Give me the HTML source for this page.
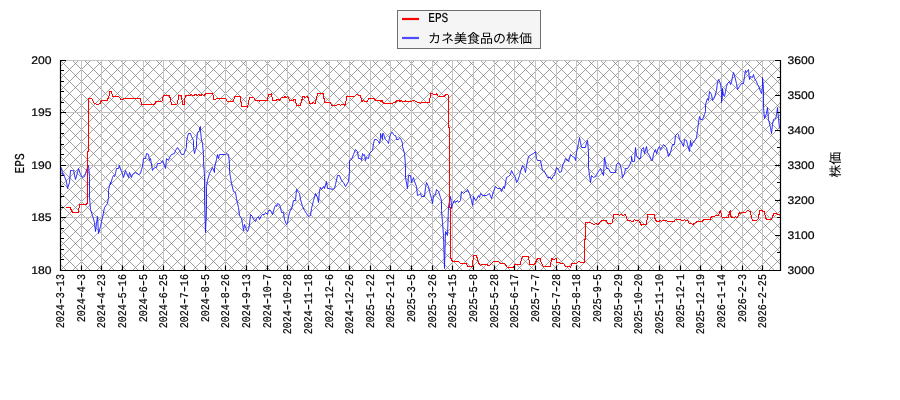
<!DOCTYPE html>
<html lang="ja"><head><meta charset="utf-8"><title>EPS chart</title>
<style>
html,body{margin:0;padding:0;background:#fff;}
body{width:900px;height:400px;overflow:hidden;}
svg{display:block;will-change:transform;}
text{text-rendering:geometricPrecision;}
.m{font-family:"Liberation Mono",monospace;font-size:11.8px;fill:#000;stroke:#000;stroke-width:0.2px;}
.lg{font-family:"Liberation Mono",monospace;font-size:13.6px;fill:#000;stroke:#000;stroke-width:0.2px;}
.n{font-family:"Liberation Sans",sans-serif;font-size:11.05px;fill:#000;stroke:#000;stroke-width:0.2px;}
.jp{font-family:"Liberation Sans","Noto Sans CJK JP",sans-serif;font-size:13px;fill:#000;}
</style></head><body>
<svg width="900" height="400" viewBox="0 0 900 400">
<rect x="0" y="0" width="900" height="400" fill="#fff"/>
<defs><clipPath id="pc"><rect x="61" y="61" width="719.5" height="209.5"/></clipPath></defs>
<g clip-path="url(#pc)" fill="none" stroke="#000" opacity="0.53" stroke-width="0.7"><path d="M-168.5 59.5L43.5 271.5M-156.5 59.5L55.5 271.5M-144.5 59.5L67.5 271.5M-132.5 59.5L79.5 271.5M-120.5 59.5L91.5 271.5M-108.5 59.5L103.5 271.5M-96.5 59.5L115.5 271.5M-84.5 59.5L127.5 271.5M-72.5 59.5L139.5 271.5M-60.5 59.5L151.5 271.5M-48.5 59.5L163.5 271.5M-36.5 59.5L175.5 271.5M-24.5 59.5L187.5 271.5M-12.5 59.5L199.5 271.5M-0.5 59.5L211.5 271.5M11.5 59.5L223.5 271.5M23.5 59.5L235.5 271.5M35.5 59.5L247.5 271.5M47.5 59.5L259.5 271.5M59.5 59.5L271.5 271.5M71.5 59.5L283.5 271.5M83.5 59.5L295.5 271.5M95.5 59.5L307.5 271.5M107.5 59.5L319.5 271.5M119.5 59.5L331.5 271.5M131.5 59.5L343.5 271.5M143.5 59.5L355.5 271.5M155.5 59.5L367.5 271.5M167.5 59.5L379.5 271.5M179.5 59.5L391.5 271.5M191.5 59.5L403.5 271.5M203.5 59.5L415.5 271.5M215.5 59.5L427.5 271.5M227.5 59.5L439.5 271.5M239.5 59.5L451.5 271.5M251.5 59.5L463.5 271.5M263.5 59.5L475.5 271.5M275.5 59.5L487.5 271.5M287.5 59.5L499.5 271.5M299.5 59.5L511.5 271.5M311.5 59.5L523.5 271.5M323.5 59.5L535.5 271.5M335.5 59.5L547.5 271.5M347.5 59.5L559.5 271.5M359.5 59.5L571.5 271.5M371.5 59.5L583.5 271.5M383.5 59.5L595.5 271.5M395.5 59.5L607.5 271.5M407.5 59.5L619.5 271.5M419.5 59.5L631.5 271.5M431.5 59.5L643.5 271.5M443.5 59.5L655.5 271.5M455.5 59.5L667.5 271.5M467.5 59.5L679.5 271.5M479.5 59.5L691.5 271.5M491.5 59.5L703.5 271.5M503.5 59.5L715.5 271.5M515.5 59.5L727.5 271.5M527.5 59.5L739.5 271.5M539.5 59.5L751.5 271.5M551.5 59.5L763.5 271.5M563.5 59.5L775.5 271.5M575.5 59.5L787.5 271.5M587.5 59.5L799.5 271.5M599.5 59.5L811.5 271.5M611.5 59.5L823.5 271.5M623.5 59.5L835.5 271.5M635.5 59.5L847.5 271.5M647.5 59.5L859.5 271.5M659.5 59.5L871.5 271.5M671.5 59.5L883.5 271.5M683.5 59.5L895.5 271.5M695.5 59.5L907.5 271.5M707.5 59.5L919.5 271.5M719.5 59.5L931.5 271.5M731.5 59.5L943.5 271.5M743.5 59.5L955.5 271.5M755.5 59.5L967.5 271.5M767.5 59.5L979.5 271.5M779.5 59.5L991.5 271.5"/><path d="M43.5 59.5L-168.5 271.5M55.5 59.5L-156.5 271.5M67.5 59.5L-144.5 271.5M79.5 59.5L-132.5 271.5M91.5 59.5L-120.5 271.5M103.5 59.5L-108.5 271.5M115.5 59.5L-96.5 271.5M127.5 59.5L-84.5 271.5M139.5 59.5L-72.5 271.5M151.5 59.5L-60.5 271.5M163.5 59.5L-48.5 271.5M175.5 59.5L-36.5 271.5M187.5 59.5L-24.5 271.5M199.5 59.5L-12.5 271.5M211.5 59.5L-0.5 271.5M223.5 59.5L11.5 271.5M235.5 59.5L23.5 271.5M247.5 59.5L35.5 271.5M259.5 59.5L47.5 271.5M271.5 59.5L59.5 271.5M283.5 59.5L71.5 271.5M295.5 59.5L83.5 271.5M307.5 59.5L95.5 271.5M319.5 59.5L107.5 271.5M331.5 59.5L119.5 271.5M343.5 59.5L131.5 271.5M355.5 59.5L143.5 271.5M367.5 59.5L155.5 271.5M379.5 59.5L167.5 271.5M391.5 59.5L179.5 271.5M403.5 59.5L191.5 271.5M415.5 59.5L203.5 271.5M427.5 59.5L215.5 271.5M439.5 59.5L227.5 271.5M451.5 59.5L239.5 271.5M463.5 59.5L251.5 271.5M475.5 59.5L263.5 271.5M487.5 59.5L275.5 271.5M499.5 59.5L287.5 271.5M511.5 59.5L299.5 271.5M523.5 59.5L311.5 271.5M535.5 59.5L323.5 271.5M547.5 59.5L335.5 271.5M559.5 59.5L347.5 271.5M571.5 59.5L359.5 271.5M583.5 59.5L371.5 271.5M595.5 59.5L383.5 271.5M607.5 59.5L395.5 271.5M619.5 59.5L407.5 271.5M631.5 59.5L419.5 271.5M643.5 59.5L431.5 271.5M655.5 59.5L443.5 271.5M667.5 59.5L455.5 271.5M679.5 59.5L467.5 271.5M691.5 59.5L479.5 271.5M703.5 59.5L491.5 271.5M715.5 59.5L503.5 271.5M727.5 59.5L515.5 271.5M739.5 59.5L527.5 271.5M751.5 59.5L539.5 271.5M763.5 59.5L551.5 271.5M775.5 59.5L563.5 271.5M787.5 59.5L575.5 271.5M799.5 59.5L587.5 271.5M811.5 59.5L599.5 271.5M823.5 59.5L611.5 271.5M835.5 59.5L623.5 271.5M847.5 59.5L635.5 271.5M859.5 59.5L647.5 271.5M871.5 59.5L659.5 271.5M883.5 59.5L671.5 271.5M895.5 59.5L683.5 271.5M907.5 59.5L695.5 271.5M919.5 59.5L707.5 271.5M931.5 59.5L719.5 271.5M943.5 59.5L731.5 271.5M955.5 59.5L743.5 271.5M967.5 59.5L755.5 271.5M979.5 59.5L767.5 271.5M991.5 59.5L779.5 271.5"/></g>
<path d="M81.5 60.5V270.5M101.5 60.5V270.5M122.5 60.5V270.5M143.5 60.5V270.5M163.5 60.5V270.5M184.5 60.5V270.5M205.5 60.5V270.5M225.5 60.5V270.5M246.5 60.5V270.5M267.5 60.5V270.5M287.5 60.5V270.5M308.5 60.5V270.5M329.5 60.5V270.5M349.5 60.5V270.5M370.5 60.5V270.5M390.5 60.5V270.5M411.5 60.5V270.5M432.5 60.5V270.5M452.5 60.5V270.5M473.5 60.5V270.5M494.5 60.5V270.5M514.5 60.5V270.5M535.5 60.5V270.5M556.5 60.5V270.5M576.5 60.5V270.5M597.5 60.5V270.5M618.5 60.5V270.5M638.5 60.5V270.5M659.5 60.5V270.5M680.5 60.5V270.5M700.5 60.5V270.5M721.5 60.5V270.5M742.5 60.5V270.5M762.5 60.5V270.5M60.5 217.5H780.5M60.5 165.5H780.5M60.5 112.5H780.5M60.5 60.5H780.5" fill="none" stroke="#c3c3c3" stroke-width="1"/>
<polyline points="61.5,167.5 62.5,174.5 63.5,173.5 64.5,176.5 66.5,181.5 67.5,188.5 69.5,182.5 70.5,170.5 72.5,170.5 73.5,170.5 75.5,179.5 77.5,172.5 78.5,168.5 80.5,174.5 82.5,177.5 84.5,176.5 85.5,173.5 87.5,167.5 88.5,165.5 89.5,176.5 89.5,197.5 90.5,209.5 92.5,215.5 94.5,222.5 95.5,231.5 96.5,223.5 97.5,216.5 98.5,233.5 100.5,226.5 101.5,221.5 102.5,217.5 104.5,207.5 107.5,203.5 108.5,197.5 108.5,190.5 109.5,185.5 110.5,182.5 110.5,184.5 112.5,177.5 113.5,175.5 114.5,176.5 115.5,173.5 116.5,168.5 118.5,168.5 119.5,165.5 120.5,169.5 122.5,173.5 123.5,177.5 125.5,170.5 126.5,172.5 128.5,177.5 129.5,172.5 131.5,177.5 132.5,174.5 135.5,172.5 138.5,174.5 140.5,173.5 141.5,169.5 142.5,166.5 143.5,158.5 145.5,158.5 146.5,153.5 148.5,154.5 149.5,160.5 150.5,158.5 152.5,170.5 153.5,168.5 155.5,167.5 156.5,167.5 157.5,163.5 160.5,163.5 162.5,160.5 164.5,165.5 165.5,168.5 166.5,158.5 168.5,160.5 169.5,157.5 171.5,154.5 174.5,153.5 175.5,150.5 177.5,147.5 179.5,150.5 181.5,154.5 183.5,154.5 184.5,152.5 186.5,147.5 186.5,142.5 187.5,136.5 188.5,133.5 190.5,133.5 191.5,136.5 193.5,140.5 193.5,147.5 194.5,153.5 195.5,149.5 196.5,147.5 196.5,140.5 197.5,132.5 199.5,130.5 199.5,127.5 200.5,126.5 200.5,130.5 201.5,140.5 202.5,143.5 203.5,154.5 203.5,161.5 204.5,176.5 204.5,200.5 205.5,232.5 206.5,210.5 206.5,186.5 207.5,180.5 209.5,173.5 210.5,171.5 212.5,167.5 214.5,172.5 214.5,167.5 216.5,159.5 217.5,154.5 218.5,158.5 219.5,154.5 225.5,154.5 226.5,153.5 228.5,154.5 229.5,163.5 229.5,171.5 230.5,177.5 231.5,183.5 233.5,191.5 235.5,192.5 236.5,198.5 237.5,203.5 238.5,207.5 239.5,215.5 241.5,218.5 242.5,223.5 243.5,230.5 244.5,224.5 246.5,229.5 247.5,231.5 248.5,229.5 249.5,224.5 250.5,214.5 252.5,216.5 253.5,219.5 255.5,221.5 256.5,218.5 258.5,216.5 259.5,219.5 261.5,215.5 262.5,214.5 264.5,214.5 265.5,212.5 267.5,214.5 268.5,210.5 270.5,210.5 271.5,212.5 272.5,214.5 274.5,207.5 275.5,205.5 276.5,206.5 277.5,203.5 279.5,204.5 280.5,207.5 281.5,212.5 283.5,212.5 284.5,219.5 286.5,224.5 287.5,223.5 288.5,216.5 290.5,209.5 291.5,209.5 293.5,200.5 295.5,200.5 296.5,189.5 298.5,192.5 299.5,193.5 300.5,199.5 302.5,206.5 304.5,210.5 306.5,213.5 308.5,216.5 310.5,215.5 311.5,208.5 313.5,200.5 315.5,193.5 317.5,197.5 318.5,202.5 319.5,190.5 320.5,187.5 321.5,189.5 323.5,186.5 324.5,188.5 326.5,181.5 327.5,188.5 329.5,188.5 332.5,189.5 334.5,188.5 335.5,184.5 337.5,175.5 339.5,175.5 341.5,180.5 343.5,182.5 345.5,186.5 348.5,181.5 349.5,171.5 349.5,160.5 351.5,159.5 353.5,154.5 355.5,149.5 357.5,151.5 358.5,158.5 360.5,158.5 361.5,160.5 362.5,153.5 363.5,155.5 364.5,154.5 365.5,160.5 366.5,157.5 368.5,158.5 369.5,153.5 372.5,150.5 373.5,143.5 374.5,139.5 376.5,139.5 378.5,141.5 379.5,143.5 380.5,138.5 380.5,133.5 381.5,136.5 382.5,139.5 382.5,133.5 383.5,133.5 384.5,137.5 385.5,139.5 387.5,141.5 388.5,143.5 389.5,137.5 390.5,134.5 391.5,132.5 392.5,132.5 393.5,134.5 394.5,135.5 395.5,135.5 396.5,138.5 396.5,139.5 398.5,139.5 399.5,137.5 400.5,138.5 401.5,140.5 402.5,143.5 402.5,146.5 404.5,153.5 405.5,165.5 405.5,177.5 407.5,188.5 408.5,175.5 410.5,175.5 411.5,182.5 413.5,177.5 414.5,181.5 416.5,186.5 417.5,195.5 419.5,194.5 420.5,193.5 421.5,196.5 424.5,196.5 425.5,187.5 426.5,182.5 428.5,186.5 429.5,191.5 431.5,198.5 432.5,203.5 433.5,195.5 435.5,194.5 436.5,189.5 438.5,191.5 440.5,197.5 441.5,200.5 441.5,210.5 442.5,222.5 443.5,235.5 444.5,268.5 445.5,231.5 447.5,235.5 448.5,206.5 450.5,196.5 451.5,204.5 451.5,208.5 452.5,204.5 454.5,200.5 455.5,202.5 457.5,200.5 458.5,202.5 460.5,200.5 461.5,191.5 463.5,193.5 465.5,191.5 466.5,191.5 467.5,189.5 469.5,193.5 471.5,200.5 472.5,205.5 473.5,196.5 475.5,200.5 476.5,199.5 478.5,195.5 479.5,197.5 480.5,193.5 482.5,195.5 486.5,195.5 489.5,193.5 491.5,198.5 493.5,191.5 495.5,186.5 497.5,188.5 500.5,188.5 501.5,191.5 503.5,186.5 504.5,188.5 506.5,177.5 508.5,176.5 510.5,174.5 511.5,170.5 513.5,174.5 515.5,177.5 516.5,182.5 517.5,181.5 519.5,175.5 520.5,171.5 522.5,165.5 524.5,168.5 525.5,172.5 526.5,165.5 528.5,156.5 531.5,154.5 533.5,153.5 535.5,151.5 536.5,158.5 537.5,160.5 540.5,160.5 542.5,170.5 544.5,171.5 546.5,175.5 547.5,177.5 550.5,177.5 551.5,179.5 553.5,175.5 554.5,175.5 556.5,167.5 558.5,169.5 559.5,172.5 561.5,171.5 562.5,165.5 564.5,161.5 565.5,158.5 568.5,161.5 570.5,154.5 572.5,156.5 574.5,157.5 575.5,160.5 576.5,152.5 578.5,143.5 579.5,137.5 580.5,142.5 581.5,147.5 585.5,147.5 586.5,142.5 587.5,140.5 588.5,151.5 588.5,167.5 589.5,175.5 590.5,182.5 591.5,175.5 593.5,177.5 595.5,176.5 596.5,174.5 598.5,171.5 600.5,168.5 601.5,171.5 603.5,175.5 604.5,157.5 605.5,162.5 606.5,168.5 608.5,168.5 610.5,172.5 613.5,172.5 615.5,172.5 616.5,164.5 618.5,162.5 620.5,165.5 621.5,170.5 622.5,177.5 624.5,173.5 625.5,168.5 627.5,168.5 629.5,165.5 631.5,160.5 631.5,156.5 632.5,161.5 634.5,161.5 635.5,147.5 636.5,155.5 638.5,158.5 640.5,158.5 641.5,149.5 643.5,147.5 644.5,153.5 646.5,146.5 647.5,152.5 649.5,155.5 651.5,160.5 652.5,160.5 653.5,153.5 655.5,149.5 656.5,153.5 658.5,147.5 659.5,146.5 660.5,149.5 662.5,146.5 663.5,144.5 665.5,146.5 666.5,147.5 668.5,156.5 670.5,152.5 672.5,144.5 674.5,144.5 675.5,135.5 677.5,133.5 678.5,134.5 679.5,139.5 681.5,142.5 683.5,146.5 684.5,139.5 686.5,140.5 687.5,144.5 689.5,151.5 690.5,140.5 691.5,146.5 692.5,143.5 695.5,139.5 696.5,137.5 697.5,130.5 698.5,122.5 699.5,116.5 700.5,119.5 702.5,119.5 704.5,114.5 705.5,111.5 705.5,104.5 707.5,98.5 708.5,100.5 709.5,91.5 711.5,94.5 712.5,100.5 714.5,97.5 716.5,90.5 717.5,82.5 718.5,79.5 720.5,83.5 721.5,91.5 721.5,102.5 722.5,95.5 722.5,88.5 723.5,95.5 724.5,96.5 725.5,91.5 726.5,86.5 727.5,83.5 729.5,81.5 730.5,84.5 731.5,82.5 732.5,76.5 733.5,72.5 734.5,75.5 736.5,83.5 737.5,89.5 739.5,86.5 741.5,83.5 743.5,83.5 744.5,76.5 745.5,70.5 746.5,72.5 747.5,70.5 748.5,69.5 749.5,79.5 750.5,76.5 752.5,77.5 753.5,74.5 754.5,78.5 756.5,81.5 757.5,84.5 758.5,85.5 760.5,91.5 761.5,93.5 762.5,86.5 762.5,77.5 763.5,88.5 763.5,88.5 763.5,107.5 764.5,118.5 766.5,113.5 767.5,107.5 768.5,119.5 770.5,127.5 771.5,133.5 772.5,124.5 773.5,119.5 775.5,118.5 776.5,115.5 777.5,107.5 778.5,118.5 779.5,128.5" fill="none" stroke="#1616ff" stroke-width="0.9" stroke-linejoin="bevel" shape-rendering="crispEdges"/>
<polyline points="66.0,207.5 70.0,207.5 72.5,212.5 78.5,212.5 79.5,204.5 85.5,204.5 87.5,203.5 87.5,151.0 88.5,151.0 88.5,98.5 91.5,98.5 94.5,103.5 98.0,104.5 100.0,103.5 101.5,100.5 107.0,100.5 109.0,96.5 110.0,91.5 111.0,91.5 113.0,96.5 118.5,96.5 121.0,99.5 122.5,99.5 124.0,98.5 140.5,98.5 141.5,104.5 154.5,104.5 156.0,101.5 162.0,101.5 163.5,95.5 169.0,95.5 170.0,97.5 171.5,104.5 176.0,104.5 177.5,103.5 178.8,95.5 181.5,95.5 182.5,104.5 184.0,104.5 185.5,95.5 190.8,95.5 190.9,94.5 192.0,94.5 192.1,95.5 194.9,95.5 195.0,94.5 196.9,94.5 197.0,95.5 198.0,95.5 198.1,94.5 199.8,94.5 199.9,95.5 201.2,95.5 201.3,94.5 203.0,94.5 203.1,95.5 204.3,95.5 204.4,94.5 205.9,94.5 206.0,93.5 212.7,93.5 214.0,99.5 215.5,99.5 216.5,98.5 225.5,98.5 227.5,101.5 233.5,101.5 234.5,96.5 240.5,96.5 241.5,106.5 247.2,106.5 247.5,107.5 249.0,100.5 249.8,97.5 253.8,97.5 255.2,100.5 259.0,100.5 259.5,101.5 260.5,100.5 267.5,100.5 268.5,94.5 271.2,94.5 271.5,93.5 272.5,100.5 276.0,100.5 276.5,99.5 279.0,99.5 279.5,100.5 281.5,97.5 284.0,97.5 284.8,96.5 286.0,97.5 287.5,96.5 288.5,97.5 289.8,100.5 293.0,100.5 293.5,99.5 295.5,99.5 296.5,105.5 300.0,105.5 301.5,101.5 302.8,96.5 304.0,96.5 305.0,97.5 306.8,96.5 308.0,97.5 309.8,103.5 312.0,103.5 313.0,102.5 315.0,103.5 316.0,100.5 317.5,93.5 323.0,93.5 324.0,98.5 324.8,102.5 330.5,102.5 331.8,105.5 336.5,105.5 337.5,104.5 339.5,104.5 340.5,105.5 341.5,104.5 344.0,104.5 344.8,105.5 345.8,102.5 346.8,96.5 354.5,96.5 356.5,94.5 357.5,94.5 358.5,95.5 360.5,95.5 361.8,101.5 363.0,100.5 364.5,101.5 367.2,101.5 368.5,98.5 374.0,98.5 376.2,100.5 380.0,100.5 381.0,101.5 382.0,100.5 383.5,103.5 392.5,103.5 393.5,102.5 395.5,102.5 396.5,100.5 399.0,100.5 400.0,101.5 401.0,100.5 402.5,101.5 405.0,101.5 405.5,100.5 406.5,101.5 411.5,101.5 412.5,100.5 414.5,100.5 417.5,102.5 419.5,102.5 420.5,103.5 421.5,102.5 429.5,102.5 430.5,93.5 432.5,93.5 433.5,94.5 435.8,94.5 436.5,93.5 437.5,95.5 438.5,96.5 444.5,96.5 445.5,94.5 447.8,94.5 448.5,95.5 448.5,127.0 449.5,127.0 449.5,207.0 450.5,207.0 450.5,255.5 451.0,258.5 452.5,261.5 458.5,261.5 460.5,263.5 466.2,263.5 467.8,266.5 472.0,266.5 473.0,260.5 474.0,255.5 476.5,255.5 477.5,259.5 479.0,263.5 480.5,265.5 481.5,264.5 487.0,264.5 488.0,265.5 489.5,265.5 491.5,263.5 493.5,261.5 498.5,261.5 500.5,263.5 504.5,263.5 506.0,265.5 507.5,267.5 513.5,267.5 514.3,264.5 520.0,264.5 521.5,259.5 522.8,256.5 528.2,256.5 529.5,262.5 530.0,264.5 534.5,264.5 536.0,261.5 537.5,258.5 540.0,258.5 541.5,263.5 543.5,266.5 550.5,266.5 551.5,258.5 553.5,259.5 556.0,258.5 557.0,262.5 559.0,262.5 561.0,263.5 563.5,263.5 565.5,266.5 570.0,266.5 570.5,267.5 572.0,263.5 576.5,263.5 578.5,261.5 579.5,261.5 580.5,262.5 584.5,262.5 584.5,239.0 585.5,239.0 585.5,222.5 589.0,222.5 590.5,222.5 592.0,223.5 593.5,224.5 596.0,223.5 598.0,224.5 599.0,223.5 600.5,221.5 602.5,220.5 606.0,220.5 608.0,223.5 612.0,223.5 613.0,219.5 614.0,214.5 618.0,214.5 619.5,215.5 621.0,214.5 623.0,215.5 625.5,214.5 626.5,217.5 627.8,220.5 630.0,220.5 631.5,221.5 633.0,221.5 634.5,219.5 635.5,220.5 638.5,220.5 640.0,222.5 641.5,225.5 643.0,224.5 646.2,224.5 647.0,220.5 648.0,214.5 654.0,214.5 655.0,218.5 656.5,221.5 659.0,221.5 660.0,220.5 661.5,221.5 663.0,220.5 666.0,220.5 667.5,221.5 674.0,221.5 675.5,219.5 680.5,219.5 681.5,220.5 683.5,220.5 684.5,219.5 685.5,220.5 687.5,220.5 689.5,223.5 691.5,223.5 693.0,224.5 695.5,222.5 697.5,221.5 702.5,221.5 703.5,219.5 710.0,219.5 711.5,216.5 714.5,216.5 716.0,215.5 718.5,215.5 719.5,212.5 720.5,210.5 721.2,214.5 722.2,217.5 728.0,217.5 729.0,214.5 730.0,211.5 730.5,210.5 731.0,216.5 731.8,217.5 734.5,217.5 735.5,216.5 737.2,217.5 739.0,213.5 739.8,212.5 740.5,213.5 741.5,212.5 745.5,212.5 747.5,210.5 748.5,210.5 750.0,211.5 750.8,213.5 751.5,217.5 752.5,220.5 754.0,220.5 756.5,220.5 758.0,219.5 759.0,214.5 760.0,210.5 762.0,210.5 763.0,211.5 764.2,211.5 765.5,217.5 766.5,219.5 768.5,219.5 770.0,219.5 771.5,219.5 772.5,216.5 774.0,213.5 776.0,213.5 777.5,214.5 780.0,214.5" fill="none" stroke="#ff0000" stroke-width="1" stroke-linejoin="miter" stroke-miterlimit="2" shape-rendering="crispEdges"/>
<path d="M60.5 60.0V271.0M780.5 60.0V271.0M60.0 270.5H781.0M60.5 270.5h5.5M60.5 259.5h3.5M60.5 249.5h3.5M60.5 238.5h3.5M60.5 228.5h3.5M60.5 217.5h5.5M60.5 207.5h3.5M60.5 196.5h3.5M60.5 186.5h3.5M60.5 175.5h3.5M60.5 165.5h5.5M60.5 154.5h3.5M60.5 144.5h3.5M60.5 133.5h3.5M60.5 123.5h3.5M60.5 112.5h5.5M60.5 102.5h3.5M60.5 91.5h3.5M60.5 81.5h3.5M60.5 70.5h3.5M60.5 60.5h5.5M780.5 270.5h-5.5M780.5 252.5h-3.5M780.5 235.5h-5.5M780.5 217.5h-3.5M780.5 200.5h-5.5M780.5 182.5h-3.5M780.5 165.5h-5.5M780.5 147.5h-3.5M780.5 130.5h-5.5M780.5 112.5h-3.5M780.5 95.5h-5.5M780.5 77.5h-3.5M780.5 60.5h-5.5M60.5 270.5v-5M81.5 270.5v-5M101.5 270.5v-5M122.5 270.5v-5M143.5 270.5v-5M163.5 270.5v-5M184.5 270.5v-5M205.5 270.5v-5M225.5 270.5v-5M246.5 270.5v-5M267.5 270.5v-5M287.5 270.5v-5M308.5 270.5v-5M329.5 270.5v-5M349.5 270.5v-5M370.5 270.5v-5M390.5 270.5v-5M411.5 270.5v-5M432.5 270.5v-5M452.5 270.5v-5M473.5 270.5v-5M494.5 270.5v-5M514.5 270.5v-5M535.5 270.5v-5M556.5 270.5v-5M576.5 270.5v-5M597.5 270.5v-5M618.5 270.5v-5M638.5 270.5v-5M659.5 270.5v-5M680.5 270.5v-5M700.5 270.5v-5M721.5 270.5v-5M742.5 270.5v-5M762.5 270.5v-5" fill="none" stroke="#000" stroke-width="1.2"/>
<text class="n" transform="translate(51.6 273.8) scale(1.1 1)" text-anchor="end">180</text>
<text class="n" transform="translate(51.6 221.3) scale(1.1 1)" text-anchor="end">185</text>
<text class="n" transform="translate(51.6 168.8) scale(1.1 1)" text-anchor="end">190</text>
<text class="n" transform="translate(51.6 116.3) scale(1.1 1)" text-anchor="end">195</text>
<text class="n" transform="translate(51.6 63.8) scale(1.1 1)" text-anchor="end">200</text>
<text class="n" transform="translate(787.5 273.8) scale(1.1 1)">3000</text>
<text class="n" transform="translate(787.5 238.8) scale(1.1 1)">3100</text>
<text class="n" transform="translate(787.5 203.8) scale(1.1 1)">3200</text>
<text class="n" transform="translate(787.5 168.8) scale(1.1 1)">3300</text>
<text class="n" transform="translate(787.5 133.8) scale(1.1 1)">3400</text>
<text class="n" transform="translate(787.5 98.8) scale(1.1 1)">3500</text>
<text class="n" transform="translate(787.5 63.8) scale(1.1 1)">3600</text>
<text class="m" transform="translate(64.00 274.1) rotate(-89.95) scale(0.849 1)" text-anchor="end">2024<tspan dy="-0.2">-</tspan><tspan dy="0.2">3</tspan><tspan dy="-0.2">-</tspan><tspan dy="0.2">13</tspan></text>
<text class="m" transform="translate(85.00 274.1) rotate(-89.95) scale(0.849 1)" text-anchor="end">2024<tspan dy="-0.2">-</tspan><tspan dy="0.2">4</tspan><tspan dy="-0.2">-</tspan><tspan dy="0.2">3</tspan></text>
<text class="m" transform="translate(105.00 274.1) rotate(-89.95) scale(0.849 1)" text-anchor="end">2024<tspan dy="-0.2">-</tspan><tspan dy="0.2">4</tspan><tspan dy="-0.2">-</tspan><tspan dy="0.2">23</tspan></text>
<text class="m" transform="translate(126.00 274.1) rotate(-89.95) scale(0.849 1)" text-anchor="end">2024<tspan dy="-0.2">-</tspan><tspan dy="0.2">5</tspan><tspan dy="-0.2">-</tspan><tspan dy="0.2">16</tspan></text>
<text class="m" transform="translate(147.00 274.1) rotate(-89.95) scale(0.849 1)" text-anchor="end">2024<tspan dy="-0.2">-</tspan><tspan dy="0.2">6</tspan><tspan dy="-0.2">-</tspan><tspan dy="0.2">5</tspan></text>
<text class="m" transform="translate(167.00 274.1) rotate(-89.95) scale(0.849 1)" text-anchor="end">2024<tspan dy="-0.2">-</tspan><tspan dy="0.2">6</tspan><tspan dy="-0.2">-</tspan><tspan dy="0.2">25</tspan></text>
<text class="m" transform="translate(188.00 274.1) rotate(-89.95) scale(0.849 1)" text-anchor="end">2024<tspan dy="-0.2">-</tspan><tspan dy="0.2">7</tspan><tspan dy="-0.2">-</tspan><tspan dy="0.2">16</tspan></text>
<text class="m" transform="translate(209.00 274.1) rotate(-89.95) scale(0.849 1)" text-anchor="end">2024<tspan dy="-0.2">-</tspan><tspan dy="0.2">8</tspan><tspan dy="-0.2">-</tspan><tspan dy="0.2">5</tspan></text>
<text class="m" transform="translate(229.00 274.1) rotate(-89.95) scale(0.849 1)" text-anchor="end">2024<tspan dy="-0.2">-</tspan><tspan dy="0.2">8</tspan><tspan dy="-0.2">-</tspan><tspan dy="0.2">26</tspan></text>
<text class="m" transform="translate(250.00 274.1) rotate(-89.95) scale(0.849 1)" text-anchor="end">2024<tspan dy="-0.2">-</tspan><tspan dy="0.2">9</tspan><tspan dy="-0.2">-</tspan><tspan dy="0.2">13</tspan></text>
<text class="m" transform="translate(271.00 274.1) rotate(-89.95) scale(0.849 1)" text-anchor="end">2024<tspan dy="-0.2">-</tspan><tspan dy="0.2">10</tspan><tspan dy="-0.2">-</tspan><tspan dy="0.2">7</tspan></text>
<text class="m" transform="translate(291.00 274.1) rotate(-89.95) scale(0.849 1)" text-anchor="end">2024<tspan dy="-0.2">-</tspan><tspan dy="0.2">10</tspan><tspan dy="-0.2">-</tspan><tspan dy="0.2">28</tspan></text>
<text class="m" transform="translate(312.00 274.1) rotate(-89.95) scale(0.849 1)" text-anchor="end">2024<tspan dy="-0.2">-</tspan><tspan dy="0.2">11</tspan><tspan dy="-0.2">-</tspan><tspan dy="0.2">18</tspan></text>
<text class="m" transform="translate(333.00 274.1) rotate(-89.95) scale(0.849 1)" text-anchor="end">2024<tspan dy="-0.2">-</tspan><tspan dy="0.2">12</tspan><tspan dy="-0.2">-</tspan><tspan dy="0.2">6</tspan></text>
<text class="m" transform="translate(353.00 274.1) rotate(-89.95) scale(0.849 1)" text-anchor="end">2024<tspan dy="-0.2">-</tspan><tspan dy="0.2">12</tspan><tspan dy="-0.2">-</tspan><tspan dy="0.2">26</tspan></text>
<text class="m" transform="translate(374.00 274.1) rotate(-89.95) scale(0.849 1)" text-anchor="end">2025<tspan dy="-0.2">-</tspan><tspan dy="0.2">1</tspan><tspan dy="-0.2">-</tspan><tspan dy="0.2">22</tspan></text>
<text class="m" transform="translate(394.00 274.1) rotate(-89.95) scale(0.849 1)" text-anchor="end">2025<tspan dy="-0.2">-</tspan><tspan dy="0.2">2</tspan><tspan dy="-0.2">-</tspan><tspan dy="0.2">12</tspan></text>
<text class="m" transform="translate(415.00 274.1) rotate(-89.95) scale(0.849 1)" text-anchor="end">2025<tspan dy="-0.2">-</tspan><tspan dy="0.2">3</tspan><tspan dy="-0.2">-</tspan><tspan dy="0.2">5</tspan></text>
<text class="m" transform="translate(436.00 274.1) rotate(-89.95) scale(0.849 1)" text-anchor="end">2025<tspan dy="-0.2">-</tspan><tspan dy="0.2">3</tspan><tspan dy="-0.2">-</tspan><tspan dy="0.2">26</tspan></text>
<text class="m" transform="translate(456.00 274.1) rotate(-89.95) scale(0.849 1)" text-anchor="end">2025<tspan dy="-0.2">-</tspan><tspan dy="0.2">4</tspan><tspan dy="-0.2">-</tspan><tspan dy="0.2">15</tspan></text>
<text class="m" transform="translate(477.00 274.1) rotate(-89.95) scale(0.849 1)" text-anchor="end">2025<tspan dy="-0.2">-</tspan><tspan dy="0.2">5</tspan><tspan dy="-0.2">-</tspan><tspan dy="0.2">8</tspan></text>
<text class="m" transform="translate(498.00 274.1) rotate(-89.95) scale(0.849 1)" text-anchor="end">2025<tspan dy="-0.2">-</tspan><tspan dy="0.2">5</tspan><tspan dy="-0.2">-</tspan><tspan dy="0.2">28</tspan></text>
<text class="m" transform="translate(518.00 274.1) rotate(-89.95) scale(0.849 1)" text-anchor="end">2025<tspan dy="-0.2">-</tspan><tspan dy="0.2">6</tspan><tspan dy="-0.2">-</tspan><tspan dy="0.2">17</tspan></text>
<text class="m" transform="translate(539.00 274.1) rotate(-89.95) scale(0.849 1)" text-anchor="end">2025<tspan dy="-0.2">-</tspan><tspan dy="0.2">7</tspan><tspan dy="-0.2">-</tspan><tspan dy="0.2">7</tspan></text>
<text class="m" transform="translate(560.00 274.1) rotate(-89.95) scale(0.849 1)" text-anchor="end">2025<tspan dy="-0.2">-</tspan><tspan dy="0.2">7</tspan><tspan dy="-0.2">-</tspan><tspan dy="0.2">28</tspan></text>
<text class="m" transform="translate(580.00 274.1) rotate(-89.95) scale(0.849 1)" text-anchor="end">2025<tspan dy="-0.2">-</tspan><tspan dy="0.2">8</tspan><tspan dy="-0.2">-</tspan><tspan dy="0.2">18</tspan></text>
<text class="m" transform="translate(601.00 274.1) rotate(-89.95) scale(0.849 1)" text-anchor="end">2025<tspan dy="-0.2">-</tspan><tspan dy="0.2">9</tspan><tspan dy="-0.2">-</tspan><tspan dy="0.2">5</tspan></text>
<text class="m" transform="translate(622.00 274.1) rotate(-89.95) scale(0.849 1)" text-anchor="end">2025<tspan dy="-0.2">-</tspan><tspan dy="0.2">9</tspan><tspan dy="-0.2">-</tspan><tspan dy="0.2">29</tspan></text>
<text class="m" transform="translate(642.00 274.1) rotate(-89.95) scale(0.849 1)" text-anchor="end">2025<tspan dy="-0.2">-</tspan><tspan dy="0.2">10</tspan><tspan dy="-0.2">-</tspan><tspan dy="0.2">20</tspan></text>
<text class="m" transform="translate(663.00 274.1) rotate(-89.95) scale(0.849 1)" text-anchor="end">2025<tspan dy="-0.2">-</tspan><tspan dy="0.2">11</tspan><tspan dy="-0.2">-</tspan><tspan dy="0.2">10</tspan></text>
<text class="m" transform="translate(684.00 274.1) rotate(-89.95) scale(0.849 1)" text-anchor="end">2025<tspan dy="-0.2">-</tspan><tspan dy="0.2">12</tspan><tspan dy="-0.2">-</tspan><tspan dy="0.2">1</tspan></text>
<text class="m" transform="translate(704.00 274.1) rotate(-89.95) scale(0.849 1)" text-anchor="end">2025<tspan dy="-0.2">-</tspan><tspan dy="0.2">12</tspan><tspan dy="-0.2">-</tspan><tspan dy="0.2">19</tspan></text>
<text class="m" transform="translate(725.00 274.1) rotate(-89.95) scale(0.849 1)" text-anchor="end">2026<tspan dy="-0.2">-</tspan><tspan dy="0.2">1</tspan><tspan dy="-0.2">-</tspan><tspan dy="0.2">14</tspan></text>
<text class="m" transform="translate(746.00 274.1) rotate(-89.95) scale(0.849 1)" text-anchor="end">2026<tspan dy="-0.2">-</tspan><tspan dy="0.2">2</tspan><tspan dy="-0.2">-</tspan><tspan dy="0.2">3</tspan></text>
<text class="m" transform="translate(766.00 274.1) rotate(-89.95) scale(0.849 1)" text-anchor="end">2026<tspan dy="-0.2">-</tspan><tspan dy="0.2">2</tspan><tspan dy="-0.2">-</tspan><tspan dy="0.2">25</tspan></text>
<path d="M60.5 298.76v4.8M60.5 286.74v4.8M81.5 292.75v4.8M81.5 280.72v4.8M101.5 298.76v4.8M101.5 286.74v4.8M122.5 298.76v4.8M122.5 286.74v4.8M143.5 292.75v4.8M143.5 280.72v4.8M163.5 298.76v4.8M163.5 286.74v4.8M184.5 298.76v4.8M184.5 286.74v4.8M205.5 292.75v4.8M205.5 280.72v4.8M225.5 298.76v4.8M225.5 286.74v4.8M246.5 298.76v4.8M246.5 286.74v4.8M267.5 298.76v4.8M267.5 280.72v4.8M287.5 304.78v4.8M287.5 286.74v4.8M308.5 304.78v4.8M308.5 286.74v4.8M329.5 298.76v4.8M329.5 280.72v4.8M349.5 304.78v4.8M349.5 286.74v4.8M370.5 298.76v4.8M370.5 286.74v4.8M390.5 298.76v4.8M390.5 286.74v4.8M411.5 292.75v4.8M411.5 280.72v4.8M432.5 298.76v4.8M432.5 286.74v4.8M452.5 298.76v4.8M452.5 286.74v4.8M473.5 292.75v4.8M473.5 280.72v4.8M494.5 298.76v4.8M494.5 286.74v4.8M514.5 298.76v4.8M514.5 286.74v4.8M535.5 292.75v4.8M535.5 280.72v4.8M556.5 298.76v4.8M556.5 286.74v4.8M576.5 298.76v4.8M576.5 286.74v4.8M597.5 292.75v4.8M597.5 280.72v4.8M618.5 298.76v4.8M618.5 286.74v4.8M638.5 304.78v4.8M638.5 286.74v4.8M659.5 304.78v4.8M659.5 286.74v4.8M680.5 298.76v4.8M680.5 280.72v4.8M700.5 304.78v4.8M700.5 286.74v4.8M721.5 298.76v4.8M721.5 286.74v4.8M742.5 292.75v4.8M742.5 280.72v4.8M762.5 298.76v4.8M762.5 286.74v4.8" fill="none" stroke="#000" stroke-width="0.9"/>
<text class="lg" transform="translate(24.4 163.4) rotate(-90) scale(0.82 1)" text-anchor="middle">EPS</text>
<text class="jp" transform="translate(840 164.8) rotate(-90)" x="0" y="0" text-anchor="middle">株価</text>
<rect x="397.5" y="10.5" width="143" height="38" fill="#f5f5f5" stroke="#6e6e6e" stroke-width="1"/>
<path d="M402 19H419" stroke="#ff0000" stroke-width="2.2" fill="none"/>
<path d="M402 38H419" stroke="#4d4dff" stroke-width="2.2" fill="none"/>
<text class="lg" transform="translate(428.2 22.2) scale(0.82 1)">EPS</text>
<text class="jp" x="428" y="42.6">カネ美食品の株価</text>
</svg>
</body></html>
